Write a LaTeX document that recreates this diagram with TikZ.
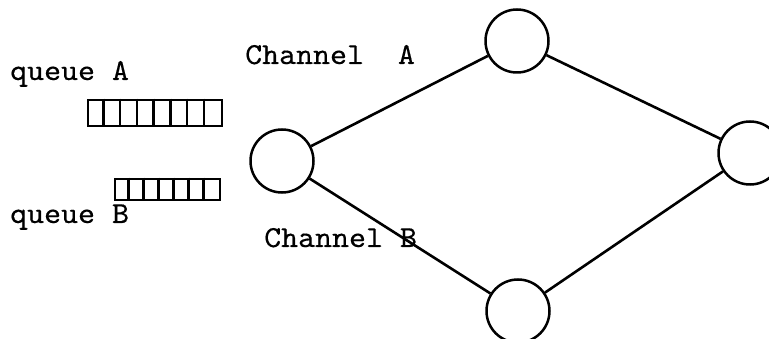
\documentclass[tikz,border=0pt]{standalone}
\usepackage{fontspec}
\newfontfamily\typewriter[FakeStretch=1.06, FakeBold=0.4]{lmmono10-regular.otf}
\usetikzlibrary{positioning}

\begin{document}
\begin{tikzpicture}[
                  x=1pt, y=-1pt,
                  every node/.style={font=\typewriter\fontsize{30.5}{32}\selectfont},
                  station/.style={circle, draw, line width=2.5pt, minimum size=63pt, inner sep=0pt},
                  queue/.style={rectangle, draw, line width=2.8pt, inner sep=0pt},
                  cell/.style={line width=2.4pt},
                  link/.style={line width=2.6pt},
                  label/.style={inner sep=0pt, anchor=base west}
            ]
            \useasboundingbox (0,0) rectangle (769,339);

            % Nodes
            \node (src) [station] at (282,161) {};
            \node (topst) [station] at (517,41) {};
            \node (dst) [station] at (750,153) {};
            \node (botst) [station] at (518,311) {};

            % Queues
            \node (qA) [queue, minimum width=134pt, minimum height=26pt] at (155,113) {};
            \node (qB) [queue, minimum width=105pt, minimum height=21pt] at (167.5,189.5) {};
            \foreach \k in {1,...,7}
                  \draw [cell] ([xshift=\k*16.75pt]qA.north west) -- ([xshift=\k*16.75pt]qA.south west);
            \foreach \k in {1,...,6}
                  \draw [cell] ([xshift=\k*15pt]qB.north west) -- ([xshift=\k*15pt]qB.south west);

            % Labels
            \node (labA) [label] at (10,80) {queue A};
            \node (labB) [label] at (10,223) {queue B};
            \node (chA) [label] at (245,64) {Channel\ \ A};
            \node (chB) [label] at (264,247) {Channel B};

            % Channels
            \draw [link] (src) -- (topst);
            \draw [link] (topst) -- (dst);
            \draw [link] (src) -- (botst);
            \draw [link] (botst) -- (dst);

      \end{tikzpicture}
\end{document}
